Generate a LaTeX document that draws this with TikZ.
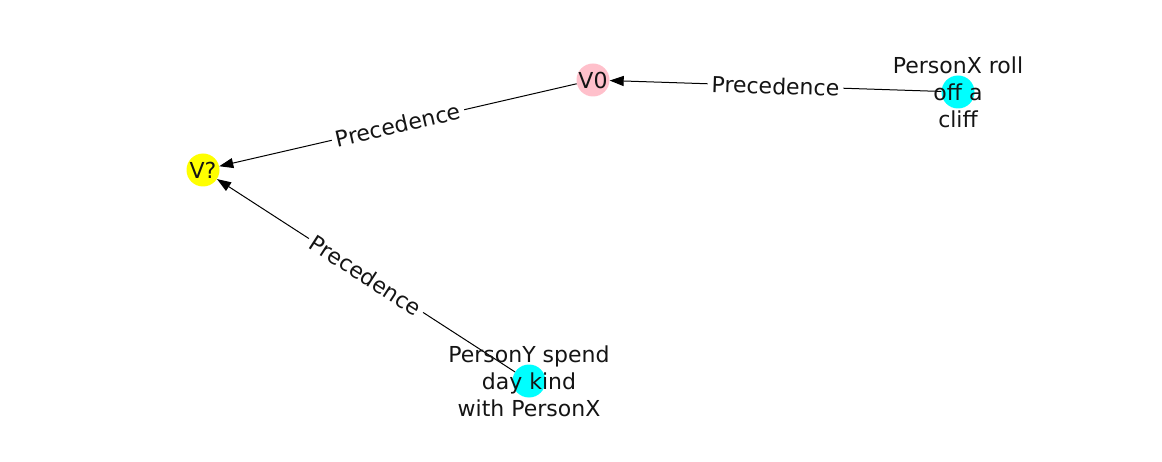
\documentclass[tikz,border=0pt]{standalone}
\usepackage{fontspec}
\setmainfont{DejaVu Sans}
\usepackage{xcolor}
\usepackage{tikz}
\usetikzlibrary{arrows.meta}
\definecolor{vpink}{RGB}{255,192,203}
\definecolor{vcyan}{RGB}{0,255,255}
\definecolor{vyellow}{RGB}{255,255,0}
\definecolor{txtgray}{RGB}{20,20,20}
\tikzset{
    dot/.style={circle, fill=#1, draw=none, minimum size=33pt, inner sep=0pt},
    nodetext/.style={align=center, text=txtgray, font=\fontsize{22}{27}\selectfont, inner sep=0pt},
    rel/.style={-{Triangle[length=14pt,width=10pt]}, line width=1pt, black},
    rellabel/.style={fill=white, text=txtgray, font=\fontsize{22}{27}\selectfont, inner sep=4pt, sloped}
}

\begin{document}
\begin{tikzpicture}[x=1pt, y=-1pt]
        \useasboundingbox (0,0) rectangle (1162,462);

        % Nodes
        \node[dot=vyellow] (vq) at (203,170) {};
        \node[dot=vpink] (vzero) at (593,80) {};
        \node[dot=vcyan] (rollcliff) at (958,92) {};
        \node[dot=vcyan] (spendday) at (529,381) {};

        % Edges
        \draw[rel] (rollcliff) -- node[rellabel] {Precedence} (vzero);
        \draw[rel] (vzero) -- node[rellabel] {Precedence} (vq);
        \draw[rel] (spendday) -- node[rellabel] {Precedence} (vq);

        % Node texts
        \node[nodetext] (vqtext) at (vq) {V?};
        \node[nodetext] (vzerotext) at (vzero) {V0};
        \node[nodetext] (rollclifftext) at (rollcliff) {PersonX roll\\off a\\cliff};
        \node[nodetext] (spenddaytext) at (spendday) {PersonY spend\\day kind\\with PersonX};
    \end{tikzpicture}
\end{document}
